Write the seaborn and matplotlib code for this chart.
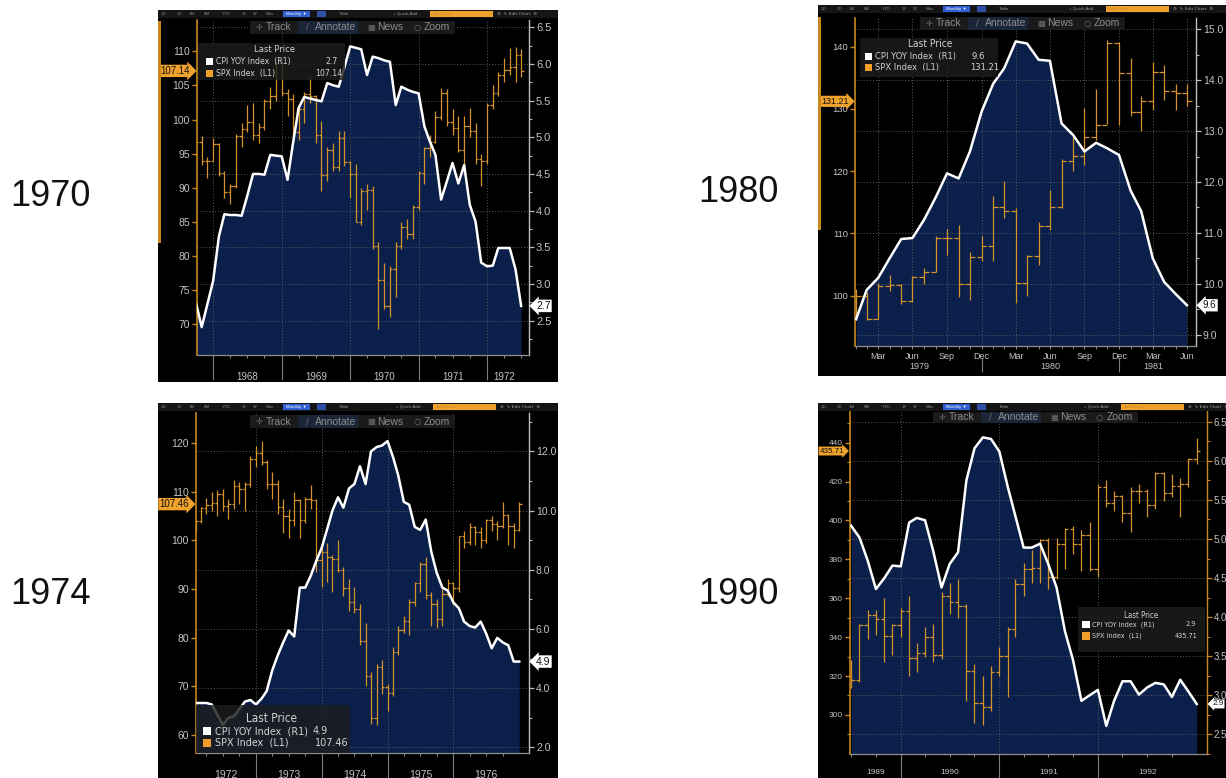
import numpy as np
import pandas as pd
import matplotlib
matplotlib.use("Agg")
import matplotlib.pyplot as plt
import matplotlib.dates as mdates
from matplotlib.patches import Rectangle
from matplotlib import font_manager
import seaborn as sns

# ====================== DATA ======================
# ---- 1970 panel: monthly, Sep 1967 .. Jun 1972 ----
START_70 = "1967-09-30"
CPI_70 = [2.75, 2.41, 2.72, 3.04, 3.65, 3.95, 3.94, 3.94, 3.93, 4.2, 4.5, 4.5, 4.49, 4.76, 4.75, 4.74,
          4.42, 4.9, 5.4, 5.55, 5.53, 5.51, 5.49, 5.74, 5.71, 5.69, 5.95, 6.24, 6.22, 6.2, 5.85, 6.1,
          6.08, 6.05, 6.03, 5.44, 5.69, 5.65, 5.62, 5.6, 5.15, 4.95, 4.76, 4.15, 4.4, 4.65, 4.37, 4.62,
          4.08, 3.85, 3.29, 3.24, 3.25, 3.49, 3.49, 3.49, 3.2, 2.7]
SPX_O_70 = [93.6, 96.71, 93.90, 94.00, 96.47, 92.24, 89.36, 90.20, 97.59, 98.68, 99.58, 97.74, 98.86,
            102.67, 103.41, 108.37, 103.86, 103.01, 98.13, 101.51, 103.69, 103.46, 97.71, 91.83, 95.51,
            93.12, 97.24, 93.81, 92.06, 85.02, 89.50, 89.63, 81.52, 76.55, 72.72, 78.05, 81.52, 84.21,
            83.25, 87.20, 92.15, 95.88, 96.75, 100.31, 103.95, 99.63, 98.70, 95.58, 99.03, 98.34, 94.23,
            93.99, 102.09, 103.94, 106.57, 107.20, 107.67, 109.53]
SPX_H_70 = [97.6, 97.6, 94.5, 97.3, 96.6, 92.5, 90.5, 97.9, 99.5, 102.2, 102.4, 99.5, 103.0, 104.8,
            108.6, 108.9, 104.5, 103.7, 102.0, 104.0, 106.2, 103.6, 99.8, 96.0, 96.5, 98.3, 98.3, 94.0,
            93.5, 90.0, 90.5, 90.3, 82.0, 79.0, 78.5, 82.0, 85.0, 85.5, 87.5, 92.5, 96.0, 97.8, 101.2,
            104.6, 104.5, 101.5, 100.5, 100.5, 101.7, 99.5, 95.0, 102.5, 105.0, 107.0, 109.0, 110.5,
            110.7, 110.4]
SPX_L_70 = [93.5, 93.3, 91.5, 93.9, 91.7, 88.5, 87.7, 90.0, 96.0, 98.2, 97.0, 96.5, 98.5, 101.5,
            102.8, 103.5, 100.5, 97.5, 97.0, 99.5, 102.5, 96.5, 89.5, 91.0, 92.5, 92.5, 93.2, 88.5,
            85.0, 84.5, 86.8, 81.0, 69.3, 72.3, 71.0, 74.0, 81.0, 82.5, 82.5, 86.8, 90.5, 94.5, 96.5,
            100.0, 99.0, 97.8, 95.2, 92.5, 97.5, 93.5, 90.2, 93.5, 101.5, 103.5, 105.5, 106.5, 105.5,
            106.2]
SPX_C_70 = [96.71, 93.90, 94.00, 96.47, 92.24, 89.36, 90.20, 97.59, 98.68, 99.58, 97.74, 98.86,
            102.67, 103.41, 108.37, 103.86, 103.01, 98.13, 101.51, 103.69, 103.46, 97.71, 91.83, 95.51,
            93.12, 97.24, 93.81, 92.06, 85.02, 89.50, 89.63, 81.52, 76.55, 72.72, 78.05, 81.52, 84.21,
            83.25, 87.20, 92.15, 95.88, 96.75, 100.31, 103.95, 99.63, 98.70, 95.58, 99.03, 98.34, 94.23,
            93.99, 102.09, 103.94, 106.57, 107.20, 107.67, 109.53, 107.14]
YEARS_70 = ["", "1968", "1969", "1970", "1971", "1972"]

# ---- 1980 panel: monthly, Jan 1979 .. Jun 1981 ----
START_80 = "1979-01-31"
CPI_80 = [9.31, 9.88, 10.12, 10.5, 10.88, 10.9, 11.26, 11.7, 12.17, 12.07, 12.6, 13.38, 13.93, 14.23,
          14.76, 14.72, 14.4, 14.38, 13.15, 12.92, 12.6, 12.77, 12.66, 12.53, 11.83, 11.43, 10.5, 10.04,
          9.8, 9.58]
SPX_O_80 = [96.1, 99.93, 96.28, 101.59, 101.76, 99.08, 102.91, 103.81, 109.32, 109.32, 101.82, 106.16,
            107.94, 114.16, 113.66, 102.09, 106.29, 111.24, 114.24, 121.67, 122.38, 125.46, 127.47,
            140.52, 135.76, 129.55, 131.27, 136.00, 132.81, 132.59]
SPX_H_80 = [101.0, 100.5, 102.0, 103.3, 101.8, 103.1, 104.5, 109.5, 110.7, 111.3, 107.0, 109.5, 116.0,
            118.4, 114.0, 106.5, 111.8, 117.0, 122.0, 125.5, 130.1, 133.2, 141.0, 140.7, 138.1, 132.0,
            137.6, 137.0, 134.0, 134.0]
SPX_L_80 = [96.1, 96.1, 96.2, 100.7, 98.6, 99.0, 101.8, 103.8, 106.6, 99.8, 99.3, 105.5, 105.5, 112.5,
            98.8, 99.9, 104.9, 110.5, 114.0, 120.0, 121.0, 125.0, 127.5, 127.4, 128.8, 126.5, 129.8,
            131.5, 129.8, 130.5]
SPX_C_80 = [99.93, 96.28, 101.59, 101.76, 99.08, 102.91, 103.81, 109.32, 109.32, 101.82, 106.16,
            107.94, 114.16, 113.66, 102.09, 106.29, 111.24, 114.24, 121.67, 122.38, 125.46, 127.47,
            140.52, 135.76, 129.55, 131.27, 136.00, 132.81, 132.59, 131.21]
YEARS_80 = ["1979", "1980", "1981"]

# ---- 1974 panel: monthly, Jan 1972 .. Dec 1976 ----
START_74 = "1972-01-31"
CPI_74 = [3.5, 3.5, 3.5, 3.45, 3.1, 2.76, 3.0, 3.05, 3.3, 3.55, 3.6, 3.45,
          3.65, 3.9, 4.6, 5.1, 5.55, 5.95, 5.75, 7.4, 7.4, 7.8, 8.3, 8.75,
          9.4, 10.0, 10.45, 10.1, 10.75, 10.9, 11.5, 10.9, 12.0, 12.15, 12.2, 12.35,
          11.8, 11.2, 10.3, 10.2, 9.45, 9.35, 9.7, 8.6, 7.9, 7.4, 7.3, 6.9,
          6.7, 6.25, 6.1, 6.05, 6.25, 5.85, 5.35, 5.7, 5.55, 5.45, 4.9, 4.9]
SPX_O_74 = [102.09, 103.94, 106.57, 107.20, 107.67, 109.53, 107.14, 107.39, 111.09, 110.55, 111.58, 116.67,
            118.05, 116.03, 111.68, 111.52, 106.97, 104.95, 104.26, 108.22, 104.25, 108.43, 108.29, 95.96,
            97.55, 96.57, 96.22, 93.98, 90.31, 87.28, 86.00, 79.31, 72.15, 63.54, 73.90, 69.97,
            68.56, 76.98, 81.59, 83.36, 87.30, 91.15, 95.19, 88.75, 86.88, 83.87, 89.04, 91.24,
            90.19, 100.86, 99.71, 102.77, 101.64, 100.18, 104.28, 103.44, 102.91, 105.24, 102.90, 102.10]
SPX_H_74 = [104.2, 106.9, 108.8, 110.0, 110.4, 110.5, 108.5, 112.5, 112.0, 112.0, 117.3, 119.5,
            120.5, 116.5, 114.0, 112.5, 108.5, 106.5, 110.0, 108.5, 109.0, 111.5, 108.5, 98.5,
            99.5, 97.0, 100.0, 94.5, 92.0, 90.5, 87.0, 83.0, 73.0, 74.5, 75.5, 70.5,
            78.0, 82.5, 84.5, 88.0, 91.5, 95.5, 96.5, 89.5, 88.0, 90.0, 92.0, 91.5,
            101.0, 102.0, 103.5, 103.0, 102.8, 104.5, 105.0, 104.0, 107.8, 105.5, 103.5, 108.0]
SPX_L_74 = [101.7, 103.5, 105.5, 106.0, 105.0, 106.0, 104.5, 106.5, 107.5, 106.0, 111.0, 115.0,
            115.5, 110.5, 108.5, 105.5, 101.5, 100.5, 103.0, 100.5, 103.5, 106.5, 93.5, 90.5,
            91.5, 89.5, 93.5, 88.5, 85.5, 85.0, 78.5, 70.0, 62.3, 62.0, 68.5, 65.0,
            68.0, 76.5, 81.0, 80.5, 86.5, 89.5, 88.0, 82.5, 82.0, 82.5, 88.5, 86.8,
            89.5, 98.5, 99.0, 99.0, 98.5, 99.5, 102.0, 100.0, 102.5, 99.0, 98.5, 102.0]
SPX_C_74 = [103.94, 106.57, 107.20, 107.67, 109.53, 107.14, 107.39, 111.09, 110.55, 111.58, 116.67, 118.05,
            116.03, 111.68, 111.52, 106.97, 104.95, 104.26, 108.22, 104.25, 108.43, 108.29, 95.96, 97.55,
            96.57, 96.22, 93.98, 90.31, 87.28, 86.00, 79.31, 72.15, 63.54, 73.90, 69.97, 68.56,
            76.98, 81.59, 83.36, 87.30, 91.15, 95.19, 88.75, 86.88, 83.87, 89.04, 91.24, 90.19,
            100.86, 99.71, 102.77, 101.64, 100.18, 104.28, 103.44, 102.91, 105.24, 102.90, 102.10, 107.46]
YEARS_74 = ["1972", "1973", "1974", "1975", "1976"]

# ---- 1990 panel: monthly, Jun 1989 .. Dec 1992 ----
START_90 = "1989-06-30"
CPI_90 = [5.17, 5.02, 4.72, 4.36, 4.5, 4.66, 4.65,
          5.21, 5.27, 5.24, 4.85, 4.38, 4.68, 4.83, 5.75, 6.16, 6.3, 6.28, 6.12,
          5.67, 5.3, 4.89, 4.89, 4.94, 4.68, 4.38, 3.82, 3.45, 2.93, 3.0, 3.07,
          2.61, 2.93, 3.18, 3.18, 3.01, 3.1, 3.16, 3.14, 2.98, 3.2, 3.05, 2.89]
SPX_O_90 = [320.52, 317.98, 346.08, 351.45, 349.15, 340.36, 345.99,
            353.40, 329.08, 331.89, 339.94, 330.80, 361.23, 358.02, 356.15, 322.56, 306.05, 304.00, 322.22,
            330.22, 343.93, 367.07, 375.22, 375.35, 389.83, 371.16, 387.81, 395.43, 387.86, 392.46, 375.22,
            417.09, 408.79, 412.70, 403.69, 414.95, 415.35, 408.14, 424.21, 414.03, 417.80, 418.68, 431.35]
SPX_H_90 = [328.0, 347.0, 353.7, 354.0, 360.0, 347.0, 355.0,
            361.0, 337.0, 345.0, 347.0, 363.0, 368.0, 370.0, 357.0, 326.0, 320.0, 325.0, 335.0,
            345.0, 370.0, 378.0, 385.0, 390.5, 391.0, 391.0, 396.0, 397.0, 395.0, 399.0, 419.0,
            421.0, 415.0, 413.0, 417.0, 419.0, 416.0, 425.0, 425.0, 424.0, 422.0, 432.0, 442.5]
SPX_L_90 = [314.0, 317.0, 339.0, 341.0, 327.0, 331.0, 340.0,
            320.0, 322.0, 330.0, 327.0, 329.0, 352.0, 350.0, 307.0, 296.0, 295.0, 302.0, 320.0,
            309.0, 340.0, 361.0, 368.0, 368.0, 365.0, 370.0, 375.0, 383.0, 374.0, 374.0, 371.0,
            407.0, 405.0, 399.0, 394.0, 409.0, 402.0, 406.0, 410.0, 412.0, 402.0, 417.0, 429.0]
SPX_C_90 = [317.98, 346.08, 351.45, 349.15, 340.36, 345.99, 353.40,
            329.08, 331.89, 339.94, 330.80, 361.23, 358.02, 356.15, 322.56, 306.05, 304.00, 322.22, 330.22,
            343.93, 367.07, 375.22, 375.35, 389.83, 371.16, 387.81, 395.43, 387.86, 392.46, 375.22, 417.09,
            408.79, 412.70, 403.69, 414.95, 415.35, 408.14, 424.21, 414.03, 417.80, 418.68, 431.35, 435.71]
YEARS_90 = ["1989", "1990", "1991", "1992"]

PANEL_TITLES = ["1970", "1980", "1974", "1990"]
LEGEND_CPI = "CPI YOY Index  (R1)"
LEGEND_SPX = "SPX Index  (L1)"
TABS = ["1D", "3D", "1M", "6M", "YTD", "1Y", "5Y", "Max"]

# ====================== STYLE ======================
_fonts = font_manager.fontManager.ttflist
_names = {f.name for f in _fonts}
if "Liberation Sans Narrow" in _names:
    LEGFONT = dict(family=["Liberation Sans Narrow", "DejaVu Sans"])
elif any(f.name == "DejaVu Sans" and str(f.stretch) in ("condensed", "semi-condensed") for f in _fonts):
    LEGFONT = dict(family=["DejaVu Sans"], fontstretch="condensed")
else:
    LEGFONT = dict(family=["Liberation Sans", "DejaVu Sans"])
plt.rcParams["font.family"] = ["Liberation Sans", "DejaVu Sans"]

NAVY = "#0b1f4b"
ORANGE = "#d4922a"
AXIS_OR = "#c8871f"
GRID = "#5c5c5c"
TXT = "#c4c4c4"
SPINE = "#bdbdbd"
LEG_TXT = "#d2d2d2"

W, H = 1226, 778
fig = plt.figure(figsize=(W / 100, H / 100), dpi=100)
fig.patch.set_facecolor("white")
RENDER = fig.canvas.get_renderer()


def px_ax(x0, y0, x1, y1):
    return fig.add_axes([x0 / W, 1 - y1 / H, (x1 - x0) / W, (y1 - y0) / H])


def frect(x0, y0, x1, y1, **kw):
    fig.add_artist(Rectangle((x0 / W, 1 - y1 / H), (x1 - x0) / W, (y1 - y0) / H,
                             transform=fig.transFigure, **kw))


def ftext(x, y, s, **kw):
    return fig.text(x / W, 1 - y / H, s, **kw)


def fit(t, width_px):
    bb = t.get_window_extent(renderer=RENDER)
    fs = t.get_fontsize() * width_px / bb.width
    t.set_fontsize(fs)
    return fs


def month_dates(start, n):
    try:
        return pd.date_range(start, periods=n, freq="ME")
    except Exception:
        return pd.date_range(start, periods=n, freq="M")


def toolbar(fx0, fy0, fx1, ox, tx, ty, th):
    frect(fx0, fy0, fx1, fy0 + 8, fc="#151515", ec="none", zorder=1)
    for t, o in zip(TABS, [6, 22, 34, 49, 68, 86, 98, 112]):
        ftext(fx0 + o, fy0 + 4, t, fontsize=3.2, color="#8a8a8a", ha="center", va="center", zorder=3)
    frect(fx0 + 125, fy0 + 1, fx0 + 152, fy0 + 7, fc="#2f5fd0", ec="none", zorder=2)
    ftext(fx0 + 138, fy0 + 4, "Monthly \u25bc", fontsize=3.2, color="white", ha="center", va="center", zorder=3)
    frect(fx0 + 159, fy0 + 1, fx0 + 168, fy0 + 7, fc="#3050a8", ec="none", zorder=2)
    ftext(fx0 + 186, fy0 + 4, "Table", fontsize=3.2, color="#9a9a9a", ha="center", va="center", zorder=3)
    ftext(fx0 + ox - 24, fy0 + 4, "+ Quick-Add \u00b7", fontsize=3.2, color="#9a9a9a", ha="center", va="center", zorder=3)
    frect(fx0 + ox, fy0 + 1, fx0 + ox + 63, fy0 + 7, fc="#efa12b", ec="none", zorder=2)
    ftext(fx0 + ox + 3, fy0 + 4, "Add Data", fontsize=3.2, color="#c9882c", ha="left", va="center", zorder=3)
    ftext(fx0 + ox + 67, fy0 + 4, "\u2699  \u270e Edit Chart  \u2699", fontsize=3.2, color="#a0a0a0",
          ha="left", va="center", zorder=3, family=["DejaVu Sans"])
    # Track / Annotate / News / Zoom strip
    frect(fx0 + tx, fy0 + ty, fx0 + tx + 205, fy0 + ty + th, fc="#1a1a1a", ec="none", zorder=1)
    frect(fx0 + tx + 48, fy0 + ty, fx0 + tx + 108, fy0 + ty + th, fc="#1a2538", ec="none", zorder=1)
    yc = fy0 + ty + th / 2
    for icon, io, word, wo in [("\u271b", 6, "Track", 16), ("/", 56, "Annotate", 65),
                               ("\u25a6", 117, "News", 127), ("\u25cb", 163, "Zoom", 174)]:
        ftext(fx0 + tx + io, yc, icon, fontsize=6, color="#6f6f6f", ha="left", va="center",
              family=["DejaVu Sans"], zorder=3)
        ftext(fx0 + tx + wo, yc, word, fontsize=7.5, color="#8d8d8d", ha="left", va="center", zorder=3)


def legend(L, cpi_val, spx_val):
    x0, y0, x1, y1 = L["box"]
    frect(x0, y0, x1, y1, fc="#1d1d1d", ec="none", alpha=0.82, zorder=2)
    r1, r2 = L["rows"]
    t = ftext(L["lab"], r1, LEGEND_CPI, ha="left", va="center", color=LEG_TXT, fontsize=8,
              zorder=4, **LEGFONT)
    fs = fit(t, L["width"])
    ftext(L["lab"], r2, LEGEND_SPX, ha="left", va="center", color=LEG_TXT, fontsize=fs,
          zorder=4, **LEGFONT)
    ftext(L["title"][0], L["title"][1], "Last Price", ha="center", va="center", color=LEG_TXT,
          fontsize=fs * 1.08, zorder=4, **LEGFONT)
    s = L["sq"]
    frect(L["sqx"], r1 - s / 2, L["sqx"] + s, r1 + s / 2, fc="white", ec="none", zorder=3)
    frect(L["sqx"], r2 - s / 2, L["sqx"] + s, r2 + s / 2, fc="#f0a02a", ec="none", zorder=3)
    ftext(L["vals"][0], r1, cpi_val, ha="left", va="center", color=LEG_TXT, fontsize=fs,
          zorder=4, **LEGFONT)
    ftext(L["vals"][1], r2, spx_val, ha="left", va="center", color=LEG_TXT, fontsize=fs,
          zorder=4, **LEGFONT)


def panel(P):
    fx0, fy0, fx1, fy1 = P["frame"]
    frect(fx0, fy0, fx1, fy1, fc="black", ec="none", zorder=-5)
    if P.get("edge"):
        e0, e1 = P["edge"]
        frect(fx0, e0, fx0 + 2.5, e1, fc=AXIS_OR, ec="none", zorder=1)

    cpi = np.asarray(P["cpi"], float)
    o, hi, lo, c = (np.asarray(P[k], float) for k in ("o", "h", "l", "c"))
    dates = month_dates(P["start"], len(cpi))
    x = mdates.date2num(dates)
    xl = mdates.date2num(pd.to_datetime(list(P["xlim"])))
    fs_l, fs_r, fs_x = P["fs"]
    tag_l, tag_r, off_l, off_r = P["tags"]

    ax = px_ax(*P["plot"])
    ax2 = ax.twinx()
    ax3 = ax.twinx()

    # --- CPI area (right axis) ---
    ax.set_facecolor("black")
    ax.fill_between(x, cpi, P["cpi_lim"][0], color=NAVY, lw=0, zorder=1)
    ax.set_ylim(P["cpi_lim"])
    ax.yaxis.tick_right()
    ax.set_yticks(P["cpi_major"])
    ax.set_yticklabels([f"{v:.1f}" for v in P["cpi_major"]])
    ax.set_yticks(P["cpi_minor"], minor=True)
    rc = P.get("rcolor", SPINE)
    ax.tick_params(axis="y", which="major", direction="out", length=3.5, width=0.9, color=rc,
                   labelcolor=TXT, labelsize=fs_r, pad=1.5, left=False, right=True,
                   labelleft=False, labelright=True)
    ax.tick_params(axis="y", which="minor", direction="out", length=2, width=0.7, color=rc,
                   left=False, right=True)
    for s in ("top", "left"):
        ax.spines[s].set_visible(False)
    ax.spines["right"].set_color(rc)
    ax.spines["right"].set_linewidth(1.0)
    ax.spines["bottom"].set_color("#8f8f8f")
    ax.spines["bottom"].set_linewidth(0.9)

    # --- x axis ---
    seps = x[(dates.month == 12) & (x < x[-1])]
    bounds = np.concatenate([[x[0]], seps, [x[-1]]])
    centers = (bounds[:-1] + bounds[1:]) / 2
    if P["xstyle"] == "years":
        ax.set_xticks(seps)
        ax.set_xticklabels([""] * len(seps))
        ax.tick_params(axis="x", which="major", direction="out", length=18, width=0.8, color="#7d7d7d")
        ax.set_xticks(centers, minor=True)
        ax.set_xticklabels(P["years"], minor=True)
        ax.tick_params(axis="x", which="minor", length=0, pad=P.get("ypad", 12), labelsize=fs_x,
                       labelcolor=TXT)
        sec = ax.secondary_xaxis("bottom")
        sec.set_xticks(x[np.isin(dates.month, [3, 6, 9])])
        sec.tick_params(axis="x", length=2.5, width=0.7, color="#8f8f8f", labelbottom=False)
        sec.spines["bottom"].set_visible(False)
    else:
        q = np.isin(dates.month, [3, 6, 9, 12])
        ax.set_xticks(x[q])
        ax.set_xticklabels(list(dates[q].strftime("%b")))
        ax.tick_params(axis="x", which="major", direction="out", length=2.5, width=0.7,
                       color="#8f8f8f", labelsize=fs_x, labelcolor=TXT, pad=1.5)
        ax.set_xticks(x, minor=True)
        ax.tick_params(axis="x", which="minor", direction="out", length=2, width=0.6, color="#8f8f8f")
        sec = ax.secondary_xaxis(P["yrow"])
        sec.set_xticks(seps)
        sec.set_xticklabels([""] * len(seps))
        sec.tick_params(axis="x", which="major", direction="out", length=10, width=0.8, color="#7d7d7d")
        sec.set_xticks(centers, minor=True)
        sec.set_xticklabels(P["years"], minor=True)
        sec.tick_params(axis="x", which="minor", length=0, pad=3, labelsize=fs_x, labelcolor=TXT)
        sec.spines["bottom"].set_visible(False)
    ax.grid(True, axis="both", which="major", color=GRID, ls=(0, (1, 2)), lw=0.7)
    ax.set_axisbelow(False)

    # --- SPX OHLC bars (left axis) ---
    ax2.set_ylim(P["spx_lim"])
    ax2.vlines(x, lo, hi, color=ORANGE, lw=0.9)
    ax2.hlines(o, x - 13, x, color=ORANGE, lw=0.9)
    ax2.hlines(c, x, x + 13, color=ORANGE, lw=0.9)
    ax2.yaxis.tick_left()
    ax2.set_yticks(P["spx_major"])
    ax2.set_yticklabels([f"{v:g}" for v in P["spx_major"]])
    ax2.set_yticks(P["spx_minor"], minor=True)
    ax2.tick_params(axis="y", which="major", direction="out", length=3.5, width=1.0, color=AXIS_OR,
                    labelcolor=TXT, labelsize=fs_l, pad=1.5, left=True, right=False,
                    labelleft=True, labelright=False)
    ax2.tick_params(axis="y", which="minor", direction="out", length=2, width=0.8, color=AXIS_OR,
                    left=True, right=False)
    for s in ("top", "right", "bottom"):
        ax2.spines[s].set_visible(False)
    ax2.spines["left"].set_color(AXIS_OR)
    ax2.spines["left"].set_linewidth(1.2)

    # --- CPI line on top ---
    sns.lineplot(x=x, y=cpi, ax=ax3, color="white", linewidth=1.8, estimator=None)
    ax3.set_ylim(P["cpi_lim"])
    ax3.axis("off")
    ax.set_xlim(xl)

    # --- last price tags ---
    ax2.annotate(f"{c[-1]:.2f}", xy=(0, c[-1]), xycoords=("axes fraction", "data"),
                 xytext=(-off_l, 0), textcoords="offset points", ha="right", va="center",
                 fontsize=tag_l, color="#111111",
                 bbox=dict(boxstyle="rarrow,pad=0.12", fc="#f0a32c", ec="none"),
                 annotation_clip=False, zorder=10)
    ax3.annotate(f"{cpi[-1]:.1f}", xy=(1, cpi[-1]), xycoords=("axes fraction", "data"),
                 xytext=(off_r, 0), textcoords="offset points", ha="left", va="center",
                 fontsize=tag_r, color="#111111",
                 bbox=dict(boxstyle="larrow,pad=0.12", fc="white", ec="none"),
                 annotation_clip=False, zorder=10)

    toolbar(fx0, fy0, fx1, *P["tb"])
    legend(P["legend"], f"{cpi[-1]:.1f}", f"{c[-1]:.2f}")


PANELS = [
    dict(frame=(158, 10, 558, 382), plot=(197, 20, 529, 355), start=START_70, cpi=CPI_70,
         o=SPX_O_70, h=SPX_H_70, l=SPX_L_70, c=SPX_C_70, xlim=("1967-10-06", "1972-08-11"),
         cpi_lim=(2.03, 6.6), spx_lim=(65.5, 114.6),
         cpi_major=np.arange(2.5, 6.51, 0.5), cpi_minor=np.arange(2.25, 6.5, 0.5),
         spx_major=np.arange(70, 111, 5), spx_minor=[], xstyle="years", years=YEARS_70,
         fs=(7.5, 8, 7), tags=(7, 7.5, 5, 5), tb=(272, 92, 11, 13), edge=(21, 243),
         legend=dict(box=(198, 43, 345, 80), title=(275, 50), rows=(61.3, 73.7), sqx=205.5, sq=7.3,
                     lab=216, width=75, vals=(325, 315))),
    dict(frame=(818, 5, 1226, 376), plot=(855, 18, 1196, 346), start=START_80, cpi=CPI_80,
         o=SPX_O_80, h=SPX_H_80, l=SPX_L_80, c=SPX_C_80, xlim=("1979-01-28", "1981-07-24"),
         cpi_lim=(8.78, 15.22), spx_lim=(91.9, 144.6),
         cpi_major=np.arange(9, 15.01, 1.0), cpi_minor=np.arange(9.5, 15, 1.0),
         spx_major=np.arange(100, 141, 10), spx_minor=[], xstyle="months", years=YEARS_80,
         yrow=-12 / 328, fs=(6.8, 7.5, 6.5), tags=(6.5, 7, 4.5, 5), tb=(288, 102, 12, 13),
         edge=(17, 230),
         legend=dict(box=(860, 38, 998, 77), title=(930, 44.3), rows=(56.7, 67.7), sqx=864.7, sq=7.3,
                     lab=875, width=81, vals=(971, 970))),
    dict(frame=(158, 403, 558, 778), plot=(196, 413, 529, 753), start=START_74, cpi=CPI_74,
         o=SPX_O_74, h=SPX_H_74, l=SPX_L_74, c=SPX_C_74, xlim=("1972-02-02", "1977-02-23"),
         cpi_lim=(1.81, 13.3), spx_lim=(56.3, 126.2),
         cpi_major=np.arange(2, 12.01, 2.0), cpi_minor=np.arange(3, 13.01, 2.0),
         spx_major=np.arange(60, 121, 10), spx_minor=[], xstyle="years", years=YEARS_74,
         fs=(7.5, 7.5, 7.5), tags=(7, 7.5, 5, 5), tb=(275, 92, 12, 13),
         legend=dict(box=(196, 705, 350, 753), title=(271, 718.3), rows=(731, 742.7), sqx=203, sq=8.3,
                     lab=215, width=93, vals=(313, 315))),
    dict(frame=(818, 403, 1226, 778), plot=(850, 410, 1207, 754), start=START_90, cpi=CPI_90,
         o=SPX_O_90, h=SPX_H_90, l=SPX_L_90, c=SPX_C_90, xlim=("1989-06-26", "1993-02-07"),
         cpi_lim=(2.25, 6.65), spx_lim=(279.9, 456.8),
         cpi_major=np.arange(2.5, 6.51, 0.5), cpi_minor=np.arange(2.25, 6.5, 0.5),
         spx_major=np.arange(300, 441, 20), spx_minor=np.arange(290, 451, 20), xstyle="years",
         years=YEARS_90, fs=(6, 7, 6), tags=(5.8, 5.8, 4.2, 3.8), tb=(303, 115, 9, 11),
         rcolor=AXIS_OR, ypad=11,
         legend=dict(box=(1078, 607, 1205, 652), title=(1141, 615), rows=(624.3, 636), sqx=1082.3, sq=7.3,
                     lab=1092, width=63, vals=(1185, 1175))),
]

for P in PANELS:
    panel(P)

for title, (tx, ty) in zip(PANEL_TITLES, [(10, 197), (698, 192), (10, 595), (698, 595)]):
    ftext(tx, ty, title, fontsize=26, color="#111111", ha="left", va="center",
          family=["Liberation Sans", "DejaVu Sans"])

fig.savefig("out.png", dpi=100, facecolor="white")
